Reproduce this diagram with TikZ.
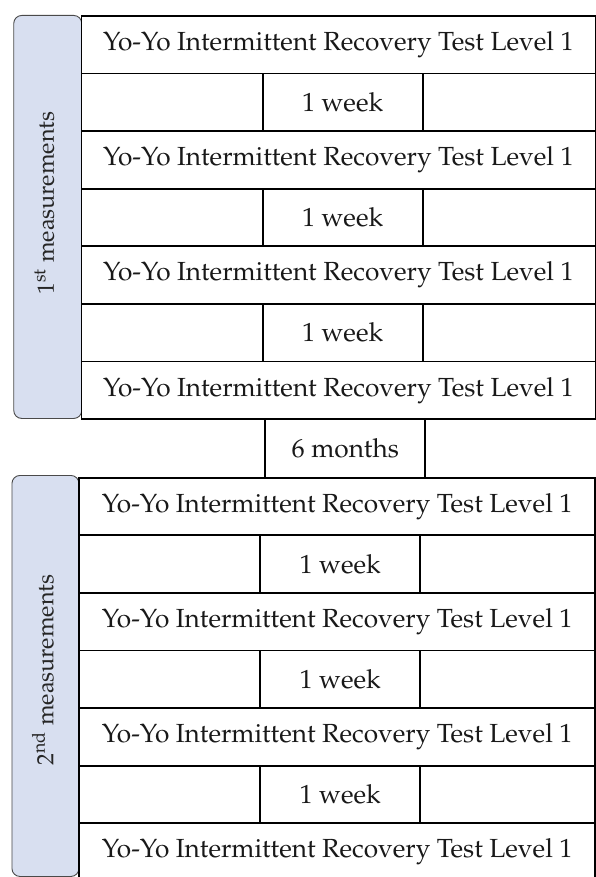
\documentclass[tikz,border=0pt]{standalone}
\usepackage[T1]{fontenc}
\usepackage{mathpazo}
\definecolor{labelfill}{HTML}{D8DFF0}
\definecolor{labeldraw}{HTML}{4A4A4A}
\tikzset{
  rowbox/.style={draw=black, line width=1.8pt, fill=white, minimum height=57.6pt, inner sep=0pt, anchor=north west, font=\fontsize{26.2}{31}\selectfont, text=black!90},
  weekbox/.style={draw=black, line width=1.8pt, fill=white, minimum height=57.6pt, minimum width=160pt, inner sep=0pt, anchor=north, font=\fontsize{26.2}{31}\selectfont, text=black!90},
  labelbox/.style={draw=labeldraw, line width=0.9pt, fill=labelfill, rounded corners=8pt, inner sep=0pt, anchor=north west},
  labeltext/.style={rotate=90, font=\fontsize{23.5}{28}\selectfont, text=black!85}
}
\begin{document}
\begin{tikzpicture}[x=1pt,y=-1pt]
\useasboundingbox (0,0) rectangle (595,877);
% label boxes
\node[labelbox, minimum width=68pt, minimum height=403pt] (L1) at (13.3,15) {};
\node[labeltext] (L1t) at (44.5,203) {1\textsuperscript{st} measurements};
\node[labelbox, minimum width=67pt, minimum height=401pt] (L2) at (11.5,475) {};
\node[labeltext] (L2t) at (43,670) {2\textsuperscript{nd} measurements};
% group 1
\node[rowbox, minimum width=514pt] (a1) at (80.5,15) {Yo-Yo Intermittent Recovery Test Level 1};
\node[rowbox, minimum width=514pt] (a2) at (80.5,72.6) {};
\node[weekbox] (a2w) at (342.6,72.6) {1 week};
\node[rowbox, minimum width=514pt] (a3) at (80.5,130.2) {Yo-Yo Intermittent Recovery Test Level 1};
\node[rowbox, minimum width=514pt] (a4) at (80.5,187.8) {};
\node[weekbox] (a4w) at (342.6,187.8) {1 week};
\node[rowbox, minimum width=514pt] (a5) at (80.5,245.4) {Yo-Yo Intermittent Recovery Test Level 1};
\node[rowbox, minimum width=514pt] (a6) at (80.5,303) {};
\node[weekbox] (a6w) at (342.6,303) {1 week};
\node[rowbox, minimum width=514pt] (a7) at (80.5,360.6) {Yo-Yo Intermittent Recovery Test Level 1};
% 6 months
\node[weekbox, minimum height=58.5pt] (m6) at (345.3,418.2) {6 months};
% group 2
\node[rowbox, minimum width=516pt] (b1) at (78.3,476.7) {Yo-Yo Intermittent Recovery Test Level 1};
\node[rowbox, minimum width=516pt] (b2) at (78.3,534.3) {};
\node[weekbox] (b2w) at (340.2,534.3) {1 week};
\node[rowbox, minimum width=516pt] (b3) at (78.3,591.9) {Yo-Yo Intermittent Recovery Test Level 1};
\node[rowbox, minimum width=516pt] (b4) at (78.3,649.5) {};
\node[weekbox] (b4w) at (340.2,649.5) {1 week};
\node[rowbox, minimum width=516pt] (b5) at (78.3,707.1) {Yo-Yo Intermittent Recovery Test Level 1};
\node[rowbox, minimum width=516pt] (b6) at (78.3,764.7) {};
\node[weekbox] (b6w) at (340.2,764.7) {1 week};
\node[rowbox, minimum width=516pt] (b7) at (78.3,822.3) {Yo-Yo Intermittent Recovery Test Level 1};
\end{tikzpicture}
\end{document}
